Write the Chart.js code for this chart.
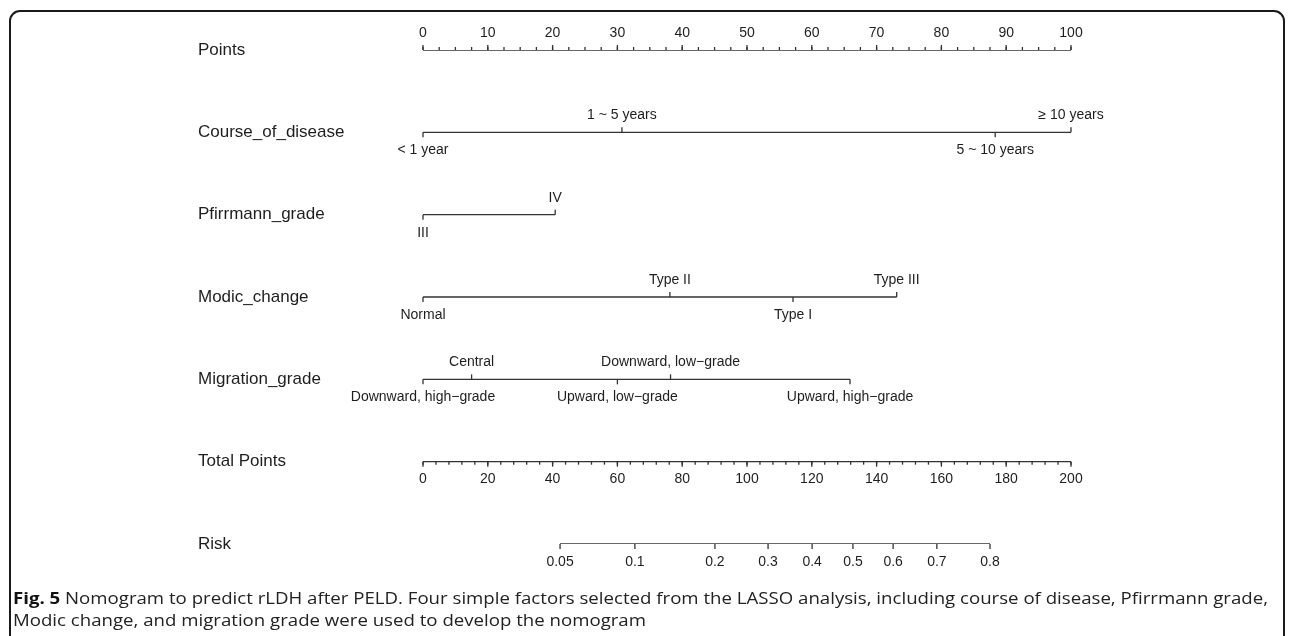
<!DOCTYPE html>
<html lang="en">
<head>
  <meta charset="UTF-8" />
  <title>Nomogram rLDH after PELD</title>
  <script src="https://cdn.jsdelivr.net/npm/chart.js"></script>
  <style>
    * { box-sizing: border-box; }
    html, body { margin: 0; padding: 0; background: #fff; overflow: hidden; }
    #wrap { position: relative; width: 1292px; height: 636px; }
    #frame {
      position: absolute; left: 9px; top: 10px;
      width: 1276px; height: 700px;
      border: 2px solid #1a1a1a; border-radius: 11px;
    }
    #nomo { position: absolute; left: 0; top: 0; }
    #caption {
      position: absolute; left: 13px; top: 587px;
      font-family: "Open Sans", sans-serif; font-size: 16px; line-height: 22px;
      color: #222; white-space: nowrap; transform-origin: 0 0;
    }
    #caption b { color: #111; }
  </style>
</head>
<body>
  <div id="wrap">
    <div id="frame"></div>
    <canvas id="nomo" width="1292" height="636"></canvas>
    <div id="caption"><b>Fig. 5</b> Nomogram to predict rLDH after PELD. Four simple factors selected from the LASSO analysis, including course of disease, Pfirrmann grade,<br>Modic change, and migration grade were used to develop the nomogram</div>
  </div>

  <script>
    // rows of the nomogram, top to bottom
    const rowNames = ["Points", "Course_of_disease", "Pfirrmann_grade", "Modic_change", "Migration_grade", "Total Points", "Risk"];

    // points scale
    const pointTicks = [0, 10, 20, 30, 40, 50, 60, 70, 80, 90, 100];
    const pointMinorStep = 2.5;

    // predictors (label, points)
    const courseLabels = ["< 1 year", "1 ~ 5 years", "5 ~ 10 years", "\u2265 10 years"];
    const coursePoints = [0, 30.7, 88.3, 100];

    const pfirrmannLabels = ["III", "IV"];
    const pfirrmannPoints = [0, 20.4];

    const modicLabels = ["Normal", "Type II", "Type I", "Type III"];
    const modicPoints = [0, 38.1, 57.1, 73.1];

    const migrationLabels = ["Downward, high\u2212grade", "Central", "Upward, low\u2212grade", "Downward, low\u2212grade", "Upward, high\u2212grade"];
    const migrationPoints = [0, 7.5, 30.0, 38.2, 65.9];

    // total points scale
    const totalTicks = [0, 20, 40, 60, 80, 100, 120, 140, 160, 180, 200];
    const totalMinorStep = 4;

    // risk scale, positions in total points
    const riskLabels = ["0.05", "0.1", "0.2", "0.3", "0.4", "0.5", "0.6", "0.7", "0.8"];
    const riskPoints = [42.3, 65.4, 90.1, 106.5, 120.1, 132.7, 145.1, 158.6, 175.0];

    const predictors = [
      { row: 1, labels: courseLabels, pts: coursePoints },
      { row: 2, labels: pfirrmannLabels, pts: pfirrmannPoints },
      { row: 3, labels: modicLabels, pts: modicPoints },
      { row: 4, labels: migrationLabels, pts: migrationPoints }
    ];

    const LINE = "#333";
    const TEXT = "#1e1e1e";
    const FONT = '"Liberation Sans", Arial, sans-serif';

    function seg(x0, x1, y) {
      return [{ x: x0, y: y }, { x: x1, y: y }];
    }

    const datasets = [];
    datasets.push({ data: seg(pointTicks[0], pointTicks[pointTicks.length - 1], 0), xAxisID: "x" });
    predictors.forEach(p => {
      datasets.push({ data: seg(Math.min(...p.pts), Math.max(...p.pts), p.row), xAxisID: "x" });
    });
    datasets.push({ data: seg(totalTicks[0], totalTicks[totalTicks.length - 1], 5), xAxisID: "x2" });
    datasets.push({ data: seg(riskPoints[0], riskPoints[riskPoints.length - 1], 6), xAxisID: "x2" });
    datasets.forEach(d => {
      d.borderColor = LINE;
      d.borderWidth = 1.3;
      d.pointRadius = 0;
      d.fill = false;
    });

    const nomoPlugin = {
      id: "nomo",
      afterDatasetsDraw(chart) {
        const ctx = chart.ctx;
        const sx = chart.scales.x, sx2 = chart.scales.x2, sy = chart.scales.y;
        ctx.save();
        ctx.strokeStyle = LINE;
        ctx.lineWidth = 1.3;
        ctx.fillStyle = TEXT;

        function tick(px, py, len) {
          ctx.beginPath();
          ctx.moveTo(px, py);
          ctx.lineTo(px, py + len);
          ctx.stroke();
        }
        function label(txt, px, py) {
          ctx.textAlign = "center";
          ctx.textBaseline = "middle";
          ctx.fillText(txt, px, py);
        }

        // row names
        ctx.font = "17px " + FONT;
        rowNames.forEach((n, i) => {
          ctx.textAlign = "left";
          ctx.textBaseline = "middle";
          ctx.fillText(n, 198, sy.getPixelForValue(i));
        });

        ctx.font = "14px " + FONT;

        // points axis: ticks up, labels above
        let y = sy.getPixelForValue(0);
        for (let v = 0; v <= 100 + 1e-9; v += pointMinorStep) tick(sx.getPixelForValue(v), y, -3);
        pointTicks.forEach(v => {
          tick(sx.getPixelForValue(v), y, -5);
          label(String(v), sx.getPixelForValue(v), y - 17);
        });

        // predictors: alternate below / above, tick points to its label
        predictors.forEach(p => {
          const yy = sy.getPixelForValue(p.row);
          p.pts.forEach((v, i) => {
            const px = sx.getPixelForValue(v);
            const below = i % 2 === 0;
            tick(px, yy, below ? 5 : -5);
            label(p.labels[i], px, below ? yy + 18 : yy - 17);
          });
        });

        // total points: ticks down, labels below
        y = sy.getPixelForValue(5);
        for (let v = 0; v <= 200 + 1e-9; v += totalMinorStep) tick(sx2.getPixelForValue(v), y, 3);
        totalTicks.forEach(v => {
          tick(sx2.getPixelForValue(v), y, 5);
          label(String(v), sx2.getPixelForValue(v), y + 17);
        });

        // risk
        y = sy.getPixelForValue(6);
        riskPoints.forEach((v, i) => {
          tick(sx2.getPixelForValue(v), y, 5);
          label(riskLabels[i], sx2.getPixelForValue(v), y + 18);
        });

        ctx.restore();
      }
    };

    new Chart(document.getElementById("nomo"), {
      type: "line",
      data: { datasets: datasets },
      options: {
        responsive: false,
        animation: false,
        events: [],
        layout: { padding: { left: 423, right: 221, top: 50, bottom: 92 } },
        plugins: { legend: { display: false }, tooltip: { enabled: false } },
        scales: {
          x: { type: "linear", min: 0, max: 100, display: false },
          x2: { type: "linear", min: 0, max: 200, display: false },
          y: { type: "linear", min: 0, max: 6, reverse: true, display: false }
        }
      },
      plugins: [nomoPlugin]
    });

    // squeeze caption to the width it has in the figure
    const cap = document.getElementById("caption");
    const w = cap.getBoundingClientRect().width;
    cap.style.transform = "scaleX(" + (1255 / w) + ")";
  </script>
</body>
</html>
